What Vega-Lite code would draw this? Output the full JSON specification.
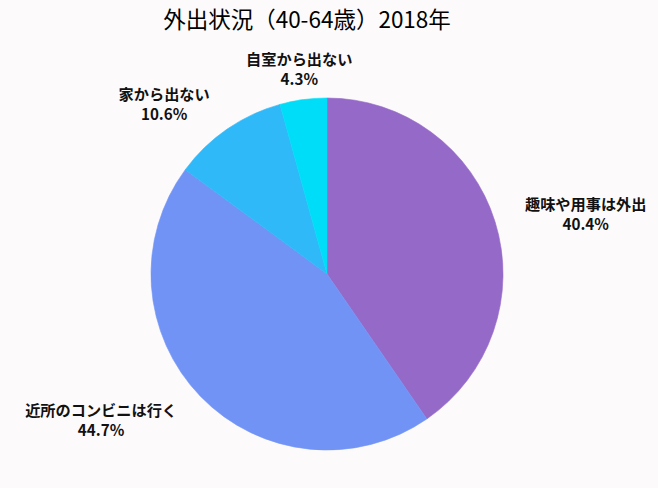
{
  "$schema": "https://vega.github.io/schema/vega-lite/v6.json",
  "autosize": "none",
  "width": 654,
  "height": 428,
  "padding": {"left": 0, "top": 60, "right": 4, "bottom": 0},
  "background": "#fdfafb",
  "title": {
    "text": "外出状況（40-64歳）2018年",
    "font": "Noto Sans CJK JP",
    "fontSize": 22.5,
    "fontWeight": "normal",
    "color": "#000000",
    "anchor": "middle",
    "dx": -20,
    "offset": 20
  },
  "data": {
    "values": [
      {"idx": 1, "category": "趣味や用事は外出", "value": 40.4},
      {"idx": 2, "category": "近所のコンビニは行く", "value": 44.7},
      {"idx": 3, "category": "家から出ない", "value": 10.6},
      {"idx": 4, "category": "自室から出ない", "value": 4.3}
    ]
  },
  "transform": [
    {"calculate": "datum.category + '\\n' + format(datum.value, '.1f') + '%'", "as": "label"}
  ],
  "encoding": {
    "theta": {"field": "value", "type": "quantitative", "stack": true},
    "order": {"field": "idx", "type": "quantitative"}
  },
  "layer": [
    {
      "mark": {"type": "arc", "outerRadius": 176, "strokeWidth": 0.6},
      "encoding": {
        "color": {
          "field": "category",
          "type": "nominal",
          "scale": {
            "domain": ["趣味や用事は外出", "近所のコンビニは行く", "家から出ない", "自室から出ない"],
            "range": ["#9569c8", "#7093f5", "#30b9f9", "#00ddf9"]
          },
          "legend": null
        },
        "stroke": {
          "field": "category",
          "type": "nominal",
          "scale": {
            "domain": ["趣味や用事は外出", "近所のコンビニは行く", "家から出ない", "自室から出ない"],
            "range": ["#9569c8", "#7093f5", "#30b9f9", "#00ddf9"]
          },
          "legend": null
        }
      }
    },
    {
      "mark": {"type": "text", "radius": 206, "dx": 62, "dy": -8, "align": "center", "baseline": "middle", "lineBreak": "\n", "lineHeight": 20, "font": "Noto Sans CJK JP", "fontSize": 15.2, "fontWeight": "bold", "color": "#111111"},
      "encoding": {"text": {"condition": {"test": "datum.idx == 1", "field": "label"}, "value": ""}}
    },
    {
      "mark": {"type": "text", "radius": 206, "dx": -78, "dy": -6, "align": "center", "baseline": "middle", "lineBreak": "\n", "lineHeight": 20, "font": "Noto Sans CJK JP", "fontSize": 15.2, "fontWeight": "bold", "color": "#111111"},
      "encoding": {"text": {"condition": {"test": "datum.idx == 2", "field": "label"}, "value": ""}}
    },
    {
      "mark": {"type": "text", "radius": 206, "dx": -46, "dy": -9, "align": "center", "baseline": "middle", "lineBreak": "\n", "lineHeight": 20, "font": "Noto Sans CJK JP", "fontSize": 15.2, "fontWeight": "bold", "color": "#111111"},
      "encoding": {"text": {"condition": {"test": "datum.idx == 3", "field": "label"}, "value": ""}}
    },
    {
      "mark": {"type": "text", "radius": 206, "dx": 0, "dy": -10, "align": "center", "baseline": "middle", "lineBreak": "\n", "lineHeight": 20, "font": "Noto Sans CJK JP", "fontSize": 15.2, "fontWeight": "bold", "color": "#111111"},
      "encoding": {"text": {"condition": {"test": "datum.idx == 4", "field": "label"}, "value": ""}}
    }
  ]
}
